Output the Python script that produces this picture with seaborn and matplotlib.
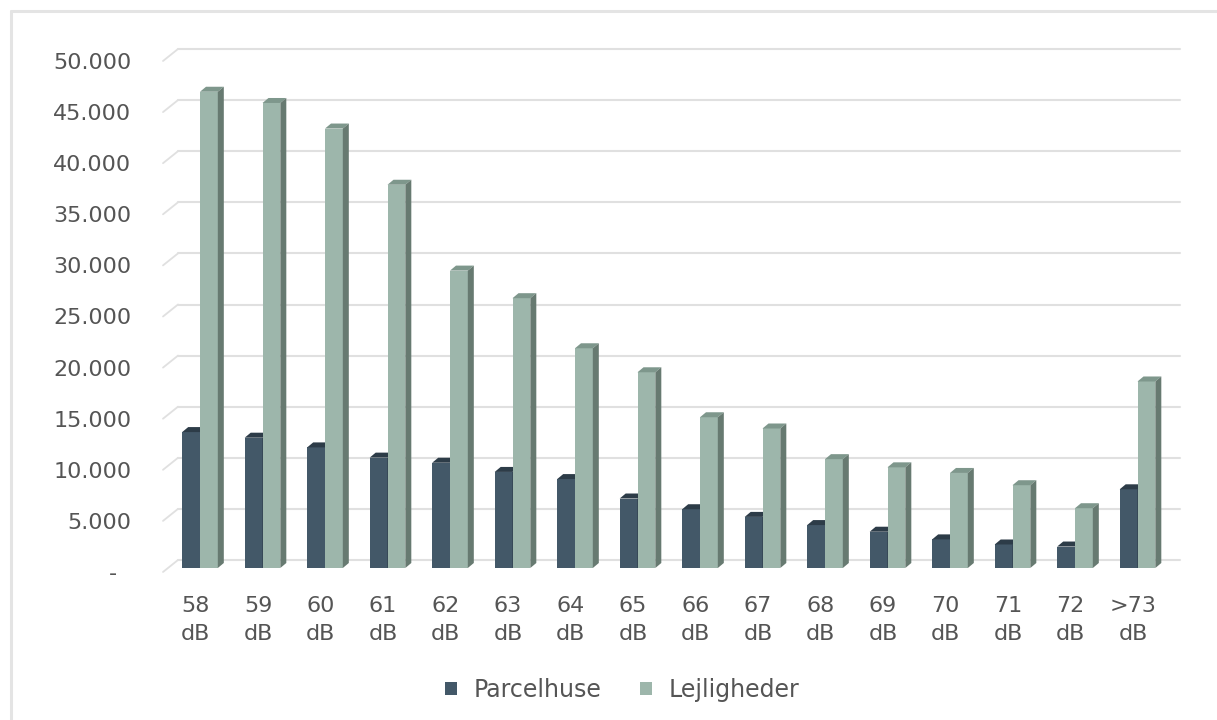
import matplotlib
matplotlib.use("Agg")
import matplotlib.pyplot as plt
import matplotlib.transforms as mtransforms
from matplotlib.lines import Line2D
from matplotlib.patches import Polygon, Patch
import pandas as pd
import seaborn as sns

# Number of dwellings exposed to road noise, by noise level
levels = ["58\ndB", "59\ndB", "60\ndB", "61\ndB", "62\ndB", "63\ndB", "64\ndB", "65\ndB",
          "66\ndB", "67\ndB", "68\ndB", "69\ndB", "70\ndB", "71\ndB", "72\ndB", ">73\ndB"]
parcelhuse = [13300, 12750, 11800, 10800, 10300, 9400, 8700, 6800,
              5750, 5000, 4200, 3550, 2800, 2300, 2100, 7700]
lejligheder = [46600, 45500, 43000, 37500, 29100, 26400, 21500, 19150,
               14750, 13650, 10650, 9850, 9300, 8100, 5850, 18250]
series_names = ["Parcelhuse", "Lejligheder"]
y_ticks = [0, 5000, 10000, 15000, 20000, 25000, 30000, 35000, 40000, 45000, 50000]
y_tick_labels = ["-  ", "5.000", "10.000", "15.000", "20.000", "25.000",
                 "30.000", "35.000", "40.000", "45.000", "50.000"]

df = pd.DataFrame({
    "niveau": levels * 2,
    "antal": parcelhuse + lejligheder,
    "type": [series_names[0]] * len(levels) + [series_names[1]] * len(levels),
})

sns.set_theme(style="white")
plt.rcParams["font.family"] = ["DejaVu Sans"]

front_colors = {"Parcelhuse": "#435868", "Lejligheder": "#9DB6AB"}
top_colors = {"Parcelhuse": "#2D3C48", "Lejligheder": "#7E978C"}
side_colors = {"Parcelhuse": "#2D3C48", "Lejligheder": "#677A71"}
text_color = "#555555"
grid_color = "#E0E0E0"

W, H = 1217, 720
fig = plt.figure(figsize=(W / 100, H / 100), dpi=100)
ax_left, ax_bottom, ax_w, ax_h = 168.75, 152, 1000, 511
ax = fig.add_axes([ax_left / W, ax_bottom / H, ax_w / W, ax_h / H])

sns.barplot(data=df, x="niveau", y="antal", hue="type", order=levels,
            hue_order=series_names, palette=[front_colors[s] for s in series_names],
            width=0.57, saturation=1, linewidth=0, legend=False, ax=ax)

ax.set_xlim(-0.5, len(levels) - 0.5)
ax.set_ylim(0, 50000)

# depth of the 3D look, in pixels
px_x = ax_w / (len(levels))
px_y = ax_h / 50000
depth_dx, depth_dy = 6 / px_x, 5 / px_y

n = len(levels)
for i, bar in enumerate(ax.patches):
    series = series_names[i // n]
    z = 2 if series == "Parcelhuse" else 3
    bar.set_zorder(z)
    x0 = bar.get_x()
    x1 = x0 + bar.get_width()
    h = bar.get_height()
    top = Polygon([(x0, h), (x1, h), (x1 + depth_dx, h + depth_dy), (x0 + depth_dx, h + depth_dy)],
                  closed=True, facecolor=top_colors[series], edgecolor="none", zorder=z)
    side = Polygon([(x1, 0), (x1, h), (x1 + depth_dx, h + depth_dy), (x1 + depth_dx, depth_dy)],
                   closed=True, facecolor=side_colors[series], edgecolor="none", zorder=z)
    ax.add_patch(top)
    ax.add_patch(side)

# back-wall gridlines with short diagonals to the front edge
ytrans = ax.get_yaxis_transform()
back_off = mtransforms.ScaledTranslation(0, 8 / 100, fig.dpi_scale_trans)
back_x0 = (178 - ax_left) / ax_w
back_x1 = (1180 - ax_left) / ax_w
front_x = (163 - ax_left) / ax_w
fig_inv = fig.transFigure.inverted()
for v in y_ticks:
    ax.add_line(Line2D([back_x0, back_x1], [v, v], transform=ytrans + back_off,
                       color=grid_color, lw=1.5, clip_on=False, zorder=0.5))
    p_front = ytrans.transform((front_x, v)) + [0, -4]
    p_back = ytrans.transform((back_x0, v)) + [0, 8]
    pf = fig_inv.transform(p_front)
    pb = fig_inv.transform(p_back)
    fig.add_artist(Line2D([pf[0], pb[0]], [pf[1], pb[1]], transform=fig.transFigure,
                          color=grid_color, lw=1.3, zorder=0.5))

ax.set_yticks(y_ticks)
ax.set_yticklabels(y_tick_labels)
ax.set_xlabel("")
ax.set_ylabel("")
for s in ax.spines.values():
    s.set_visible(False)
ax.tick_params(axis="both", length=0, labelsize=16, labelcolor=text_color)
ax.tick_params(axis="y", pad=27)
ax.tick_params(axis="x", pad=20)

y_shift = mtransforms.ScaledTranslation(0, -4 / 100, fig.dpi_scale_trans)
for lab in ax.get_yticklabels():
    lab.set_transform(lab.get_transform() + y_shift)
x_shift = mtransforms.ScaledTranslation(-4.5 / 100, 0, fig.dpi_scale_trans)
for lab in ax.get_xticklabels():
    lab.set_transform(lab.get_transform() + x_shift)
    lab.set_linespacing(1.5)

handles = [Patch(facecolor=front_colors[s], edgecolor="none", label=s) for s in series_names]
fig.legend(handles=handles, loc="center", bbox_to_anchor=(622 / W, 1 - 690 / H), ncol=2,
           frameon=False, fontsize=17, labelcolor=text_color, handlelength=0.5,
           handleheight=0.5, handletextpad=0.7, columnspacing=1.65)

# thin frame along the top and left of the chart
fig.add_artist(Line2D([11 / W, 11 / W], [0, 1 - 11 / H], transform=fig.transFigure,
                      color="#E4E4E4", lw=2.2))
fig.add_artist(Line2D([11 / W, 1], [1 - 11 / H, 1 - 11 / H], transform=fig.transFigure,
                      color="#E4E4E4", lw=2.2))

fig.savefig("out.png", dpi=100, facecolor="white")
